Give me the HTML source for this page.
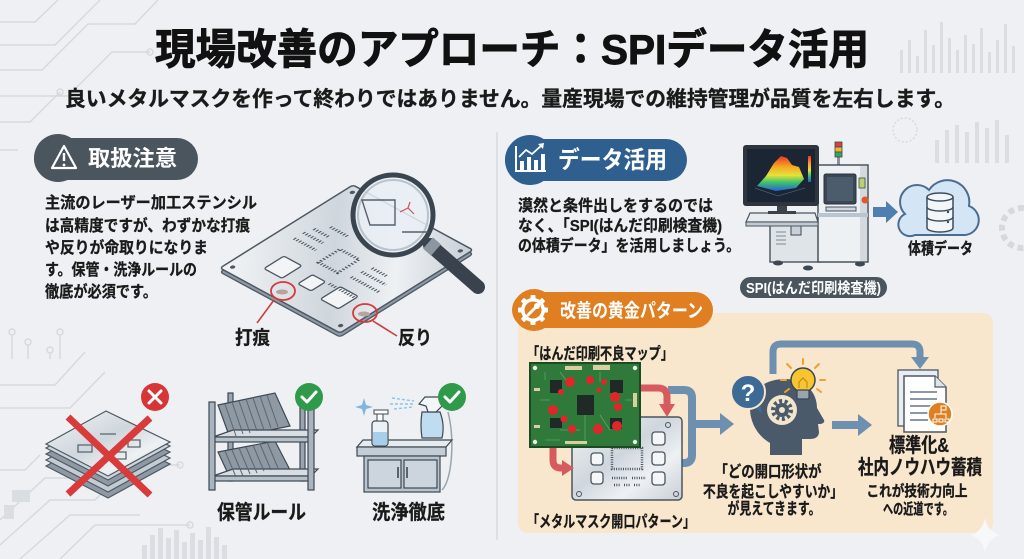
<!DOCTYPE html>
<html><head><meta charset="utf-8"><style>
html,body{margin:0;padding:0;background:#eef0f3;}
svg{display:block;}
text{font-family:"Liberation Sans","Noto Sans CJK JP",sans-serif;font-weight:700;}
</style></head><body>
<svg width="1024" height="559" viewBox="0 0 1024 559" xmlns="http://www.w3.org/2000/svg">
<defs>
<linearGradient id="silver" x1="0" y1="0" x2="1" y2="1">
<stop offset="0" stop-color="#f3f5f7"/><stop offset="0.45" stop-color="#cfd6dc"/><stop offset="0.7" stop-color="#eef1f4"/><stop offset="1" stop-color="#c7ced5"/></linearGradient>
<linearGradient id="rain" x1="0" y1="0" x2="0" y2="1">
<stop offset="0" stop-color="#e8352b"/><stop offset="0.3" stop-color="#f5a623"/><stop offset="0.55" stop-color="#e6e23a"/><stop offset="0.75" stop-color="#3cc46a"/><stop offset="1" stop-color="#2a5fd6"/></linearGradient>
</defs>
<rect width="1024" height="559" fill="#eef0f3"/>

<!-- background decorations -->
<g stroke="#d5d9de" stroke-width="1.4" fill="none">
<path d="M0 22 H35 L58 0"/><path d="M0 45 H55 L100 0"/><path d="M0 70 H42 L88 24 H135 L158 0"/>
<path d="M0 96 H68 L112 52 H150"/><path d="M0 122 H30 L60 92"/><path d="M0 150 H18"/>
<path d="M0 385 H55 L85 352"/><path d="M0 408 H70 L105 372"/><path d="M0 520 L45 478 H120 L150 448"/>
<path d="M0 545 L50 500 H95 L130 465 H180"/><path d="M20 559 L70 515 H140"/><path d="M60 559 L95 525 H190"/>
<path d="M0 470 H25 L40 455"/>
<circle cx="150" cy="52" r="3"/><circle cx="60" cy="92" r="3"/><circle cx="180" cy="465" r="3"/><circle cx="190" cy="525" r="3"/>
<circle cx="12" cy="332" r="3"/><circle cx="60" cy="332" r="3"/><circle cx="28" cy="342" r="3"/><circle cx="50" cy="350" r="3"/>
<path d="M12 335 V359 M60 335 V359 M28 345 V359 M50 353 V359"/>
<circle cx="905" cy="130" r="12" stroke-dasharray="2 2"/>
<circle cx="1022" cy="228" r="20" stroke-width="6" stroke-dasharray="6 4"/>
</g>
<g fill="#dadde1">
<rect x="900" y="50" width="3" height="23"/><rect x="908" y="40" width="3" height="33"/><rect x="916" y="56" width="3" height="17"/><rect x="924" y="30" width="3" height="43"/><rect x="932" y="45" width="3" height="28"/><rect x="940" y="22" width="3" height="51"/><rect x="948" y="38" width="3" height="35"/><rect x="956" y="50" width="3" height="23"/><rect x="964" y="35" width="3" height="38"/><rect x="972" y="44" width="3" height="29"/><rect x="980" y="28" width="3" height="45"/><rect x="988" y="52" width="3" height="21"/><rect x="996" y="40" width="3" height="33"/><rect x="1004" y="24" width="3" height="49"/><rect x="1012" y="46" width="3" height="27"/>
<rect x="935" y="140" width="4" height="23"/><rect x="945" y="130" width="4" height="33"/><rect x="955" y="125" width="4" height="38"/><rect x="965" y="132" width="4" height="31"/><rect x="975" y="122" width="4" height="41"/><rect x="985" y="128" width="4" height="35"/><rect x="995" y="120" width="4" height="43"/><rect x="1005" y="135" width="4" height="28"/>
<rect x="142" y="545" width="5" height="14"/><rect x="150" y="535" width="5" height="24"/><rect x="158" y="528" width="5" height="31"/><rect x="166" y="538" width="5" height="21"/><rect x="174" y="530" width="5" height="29"/><rect x="182" y="542" width="5" height="17"/><rect x="190" y="533" width="5" height="26"/><rect x="198" y="540" width="5" height="19"/><rect x="206" y="527" width="5" height="32"/><rect x="214" y="537" width="5" height="22"/><rect x="222" y="545" width="5" height="14"/>
<rect x="12" y="490" width="18" height="12"/><rect x="4" y="505" width="10" height="14"/>
</g>

<!-- Title -->
<text x="155" y="64" font-size="42" font-weight="900" textLength="714" lengthAdjust="spacingAndGlyphs" fill="#111" stroke="#111" stroke-width="0.9">現場改善のアプローチ：SPIデータ活用</text>
<text x="65" y="106" font-size="21" textLength="890" lengthAdjust="spacingAndGlyphs" fill="#1a1a1a" stroke="#1a1a1a" stroke-width="0.35">良いメタルマスクを作って終わりではありません。量産現場での維持管理が品質を左右します。</text>

<!-- separator -->
<line x1="497" y1="132" x2="497" y2="540" stroke="#d6dadf" stroke-width="1.5"/>

<!-- LEFT: pill -->
<rect x="34" y="138" width="164" height="42" rx="21" fill="#4b555e"/>
<circle cx="58" cy="158" r="24" fill="#4b555e"/>
<path d="M64 146 L76 168 L52 168 Z" fill="none" stroke="#fff" stroke-width="2.2" stroke-linejoin="round"/>
<line x1="64" y1="153" x2="64" y2="161" stroke="#fff" stroke-width="2.4"/><circle cx="64" cy="165" r="1.4" fill="#fff"/>
<text x="88" y="166" font-size="22" textLength="89" lengthAdjust="spacingAndGlyphs" fill="#fff">取扱注意</text>

<g font-size="16" fill="#1a1a1a" stroke="#1a1a1a" stroke-width="0.3">
<text x="45" y="208" textLength="212" lengthAdjust="spacingAndGlyphs">主流のレーザー加工ステンシル</text>
<text x="45" y="231" textLength="205" lengthAdjust="spacingAndGlyphs">は高精度ですが、わずかな打痕</text>
<text x="45" y="253" textLength="163" lengthAdjust="spacingAndGlyphs">や反りが命取りになりま</text>
<text x="45" y="275" textLength="152" lengthAdjust="spacingAndGlyphs">す。保管・洗浄ルールの</text>
<text x="45" y="297" textLength="112" lengthAdjust="spacingAndGlyphs">徹底が必須です。</text>
</g>

<!-- stencil plate -->
<g transform="matrix(1.2,0.65,1.33,-0.83,220,272)"><rect x="0" y="0" width="100" height="100" rx="2" fill="#8f99a3" stroke="#4d5863" stroke-width="1.3" vector-effect="non-scaling-stroke"/></g>
<g transform="matrix(1.2,0.65,1.33,-0.83,220,268)">
<rect x="0" y="0" width="100" height="100" rx="2" fill="url(#silver)" stroke="#4d5863" stroke-width="1.5" vector-effect="non-scaling-stroke"/>
<g fill="#f2f4f6" stroke="#4d5863" stroke-width="1.3">
<rect x="20" y="15" width="15" height="15" rx="1.5" vector-effect="non-scaling-stroke"/>
<rect x="46" y="17" width="11" height="11" rx="1.5" vector-effect="non-scaling-stroke"/>
<rect x="67" y="15" width="15" height="15" rx="1.5" vector-effect="non-scaling-stroke"/>
</g>
<g fill="none" stroke="#4d5863" stroke-width="2.2" stroke-dasharray="0.9 1.3">
<rect x="40" y="38" width="16" height="16"/>
<path d="M12 45 H30 M12 52 H28 M14 58 H26 M65 40 H88 M66 47 H86 M68 53 H80 M20 65 H34 M60 28 H82"/>
</g>
<circle cx="5" cy="5" r="1.5" fill="#4d5863"/><circle cx="95" cy="5" r="1.5" fill="#4d5863"/><circle cx="5" cy="95" r="1.5" fill="#4d5863"/><circle cx="95" cy="95" r="1.5" fill="#4d5863"/>
</g>
<!-- dents -->
<ellipse cx="283" cy="291" rx="12" ry="9" fill="none" stroke="#d63a3a" stroke-width="1.8"/>
<ellipse cx="282" cy="292" rx="6" ry="2.5" fill="#b9a39c"/>
<line x1="274" y1="300" x2="257" y2="323" stroke="#c8403f" stroke-width="1.6"/>
<ellipse cx="365" cy="313" rx="12" ry="9" fill="none" stroke="#d63a3a" stroke-width="1.8"/>
<ellipse cx="364" cy="314" rx="6" ry="2.5" fill="#b9a39c"/>
<line x1="373" y1="321" x2="397" y2="336" stroke="#c8403f" stroke-width="1.6"/>
<text x="235" y="344" font-size="19" textLength="35" lengthAdjust="spacingAndGlyphs" fill="#1a1a1a" stroke="#1a1a1a" stroke-width="0.3">打痕</text>
<text x="398" y="344" font-size="19" textLength="34" lengthAdjust="spacingAndGlyphs" fill="#1a1a1a" stroke="#1a1a1a" stroke-width="0.3">反り</text>
<!-- magnifier -->
<line x1="430" y1="245" x2="478" y2="287" stroke="#3a434d" stroke-width="14" stroke-linecap="round"/>
<line x1="428" y1="243" x2="436" y2="250" stroke="#8c96a0" stroke-width="15"/>
<circle cx="393" cy="215" r="40" fill="#e9eff4" fill-opacity="0.85" stroke="#3b4550" stroke-width="5"/>
<circle cx="393" cy="215" r="35" fill="none" stroke="#b9c3cc" stroke-width="2"/>
<path d="M362 200 H395 V225 H370 Z M402 232 H428" fill="none" stroke="#56616c" stroke-width="1.4"/>
<path d="M400 212 L408 208 L414 214 M408 208 L410 202" fill="none" stroke="#c9574d" stroke-width="1.2"/>

<!-- stack of stencils -->
<g stroke="#4d5863" stroke-width="1.2">
<polygon points="46,466 106,433 170,464 108,498" fill="#8f99a3"/>
<polygon points="46,460 106,427 170,458 108,492" fill="#c4ccd3"/>
<polygon points="46,454 106,421 170,452 108,486" fill="#8f99a3"/>
<polygon points="46,448 106,415 170,446 108,480" fill="#cdd4da"/>
<polygon points="46,444 106,411 170,442 108,476" fill="url(#silver)"/>
</g>
<g fill="none" stroke="#5a6570" stroke-width="1.3">
<rect x="90" y="425" width="16" height="9" rx="2" transform="skewX(-20)"/>
<path d="M78 445 h14 v7 h-14z M112 452 h14 v7 h-14z M128 440 h12 v7 h-12z M100 434 h16"/>
</g>
<line x1="68" y1="417" x2="150" y2="495" stroke="#d93b3b" stroke-width="7"/>
<line x1="150" y1="418" x2="68" y2="494" stroke="#d93b3b" stroke-width="7"/>
<circle cx="155" cy="397" r="14" fill="#d63636"/>
<path d="M149 391 L161 403 M161 391 L149 403" stroke="#fff" stroke-width="3" stroke-linecap="round"/>

<!-- shelf -->
<g stroke="#3e4852" stroke-width="1.2">
<rect x="228" y="393" width="5" height="88" fill="#9aa5b0"/>
<rect x="300" y="395" width="5" height="86" fill="#9aa5b0"/>
<polygon points="218,405 275,393 290,426 230,438" fill="#8e99a4"/>
<polygon points="218,452 275,441 290,470 230,478" fill="#8e99a4"/>
<polygon points="213,437 233,430 318,430 311,437" fill="#d7dde3"/>
<rect x="213" y="437" width="98" height="5" fill="#b6c0c9"/>
<polygon points="213,476 233,469 318,469 311,476" fill="#d7dde3"/>
<rect x="213" y="476" width="98" height="5" fill="#b6c0c9"/>
<rect x="209" y="402" width="6" height="88" fill="#aab4be"/>
<rect x="308" y="400" width="6" height="90" fill="#aab4be"/>
</g>
<g stroke="#5b6671" stroke-width="1">
<path d="M225 404 L236 436 M232 402 L243 434 M239 401 L250 433 M246 399 L257 431 M253 398 L264 430 M260 396 L271 428 M267 395 L278 427"/>
<path d="M225 451 L236 477 M232 450 L243 476 M239 448 L250 474 M246 447 L257 473 M253 445 L264 471 M260 444 L271 470 M267 442 L278 468"/>
</g>
<circle cx="309" cy="397" r="14" fill="#2e9a4a"/>
<path d="M302 397 L307 402 L316 392" fill="none" stroke="#fff" stroke-width="3" stroke-linecap="round" stroke-linejoin="round"/>
<text x="217" y="519" font-size="20" textLength="89" lengthAdjust="spacingAndGlyphs" fill="#1a1a1a" stroke="#1a1a1a" stroke-width="0.3">保管ルール</text>

<!-- cabinet -->
<path d="M448 412 C455 440 452 480 442 490" fill="none" stroke="#9aa4ae" stroke-width="1.5"/>
<g stroke="#3e4852" stroke-width="1.2">
<polygon points="357,447 363,440 452,440 446,447" fill="#e6ebef"/>
<rect x="357" y="447" width="89" height="9" fill="#c3cdd6"/>
<rect x="364" y="456" width="76" height="36" fill="#b8c3ce"/>
<rect x="368" y="460" width="33" height="28" fill="#ccd5dd"/>
<rect x="404" y="460" width="33" height="28" fill="#ccd5dd"/>
</g>
<path d="M398 467 V478 M407 467 V478" stroke="#3e4852" stroke-width="1.6"/>
<rect x="372" y="421" width="16" height="25" rx="3" fill="#eaf2f8" stroke="#3e4852" stroke-width="1.2"/>
<rect x="373" y="432" width="14" height="13" fill="#a8cfe9"/>
<rect x="377" y="414" width="6" height="7" fill="#fff" stroke="#3e4852"/>
<rect x="374" y="410" width="14" height="4" fill="#fff" stroke="#3e4852"/>
<path d="M422 412 Q420 425 422 438 H442 Q445 425 440 412 Z" fill="#bfdcf0" stroke="#3e4852" stroke-width="1.2"/>
<path d="M425 397 H440 L442 406 L436 412 H428 L426 406 L419 404 Z" fill="#f3f6f9" stroke="#3e4852" stroke-width="1.2"/>
<path d="M392 398 L414 401 M390 404 L413 404 M394 409 L413 407" stroke="#8fc3e6" stroke-width="1.4" stroke-dasharray="3 2"/>
<path d="M364 398 L366 405 L373 407 L366 409 L364 416 L362 409 L355 407 L362 405 Z" fill="#7fb5e0"/>
<circle cx="452" cy="397" r="14" fill="#2e9a4a"/>
<path d="M445 397 L450 402 L459 392" fill="none" stroke="#fff" stroke-width="3" stroke-linecap="round" stroke-linejoin="round"/>
<text x="372" y="519" font-size="20" textLength="73" lengthAdjust="spacingAndGlyphs" fill="#1a1a1a" stroke="#1a1a1a" stroke-width="0.3">洗浄徹底</text>

<!-- RIGHT: data pill -->
<rect x="505" y="139" width="182" height="42" rx="21" fill="#2f5f8f"/>
<circle cx="530" cy="160" r="25" fill="#2f5f8f"/>
<path d="M516 146 V171 H546" fill="none" stroke="#fff" stroke-width="2"/>
<g fill="#fff"><rect x="520" y="161" width="4" height="9"/><rect x="527" y="157" width="4" height="13"/><rect x="534" y="160" width="4" height="10"/><rect x="541" y="154" width="4" height="16"/></g>
<path d="M519 157 L526 150 L532 154 L542 145" fill="none" stroke="#fff" stroke-width="1.8"/>
<path d="M538 144 L544 143 L543 149 Z" fill="#fff"/>
<text x="558" y="168" font-size="24" textLength="109" lengthAdjust="spacingAndGlyphs" fill="#fff">データ活用</text>

<g font-size="16" fill="#1a1a1a" stroke="#1a1a1a" stroke-width="0.3">
<text x="518" y="211" textLength="195" lengthAdjust="spacingAndGlyphs">漠然と条件出しをするのでは</text>
<text x="518" y="231" textLength="204" lengthAdjust="spacingAndGlyphs">なく、「SPI(はんだ印刷検査機)</text>
<text x="518" y="251" textLength="222" lengthAdjust="spacingAndGlyphs">の体積データ」を活用しましょう。</text>
</g>

<!-- SPI machine -->
<rect x="837" y="155" width="3" height="12" fill="#8a949e"/>
<rect x="835" y="142" width="7" height="5" fill="#d9423a" stroke="#3e4852" stroke-width="0.8"/>
<rect x="835" y="147" width="7" height="5" fill="#f0b52e" stroke="#3e4852" stroke-width="0.8"/>
<rect x="835" y="152" width="7" height="5" fill="#3aa55a" stroke="#3e4852" stroke-width="0.8"/>
<rect x="770" y="218" width="50" height="44" fill="#dfe4e9" stroke="#3e4852" stroke-width="1.3"/>
<path d="M776 232 H786 M776 236 H786 M776 240 H786 M776 244 H786" stroke="#7d8893" stroke-width="1"/>
<rect x="791" y="220" width="10" height="15" fill="#c9d0d7" stroke="#3e4852" stroke-width="1"/>
<rect x="818" y="165" width="50" height="97" fill="#eef1f4" stroke="#3e4852" stroke-width="1.4"/>
<rect x="860" y="166" width="7" height="95" fill="#d3d9df"/>
<rect x="824" y="174" width="32" height="30" rx="2" fill="#3a4754" stroke="#2a333c"/>
<rect x="827" y="177" width="26" height="24" fill="#4c5c6c"/>
<rect x="859" y="178" width="6" height="10" fill="#b9d36a" stroke="#3e4852" stroke-width="0.8"/>
<rect x="826" y="207" width="30" height="4" fill="#d0d7de" stroke="#4a5560" stroke-width="1"/>
<circle cx="865" cy="200" r="3.5" fill="#e0572f"/>
<rect x="818" y="213" width="50" height="4" fill="#b8c4d2"/>
<ellipse cx="778" cy="263" rx="5" ry="2.5" fill="#3e4852"/><ellipse cx="808" cy="268" rx="5" ry="2.5" fill="#3e4852"/><ellipse cx="860" cy="264" rx="5" ry="2.5" fill="#3e4852"/>
<polygon points="750,213 815,213 818,222 746,222" fill="#e8ecef" stroke="#4a5560" stroke-width="1.2"/>
<rect x="746" y="222" width="72" height="4" fill="#c3cad1" stroke="#4a5560" stroke-width="1"/>
<rect x="777" y="205" width="10" height="8" fill="#3a424a"/>
<rect x="768" y="211" width="28" height="3" fill="#3a424a"/>
<rect x="743" y="145" width="76" height="61" rx="3" fill="#2e353c"/>
<rect x="747" y="149" width="68" height="53" fill="#1b2533"/>
<path d="M757 186 L766 176 L774 163 L781 156 L787 158 L792 165 L799 167 L804 179 L796 188 L776 191 Z" fill="url(#rain)"/>
<path d="M755 188 L778 196 L805 188" fill="none" stroke="#4c5a6c" stroke-width="0.8"/>
<rect x="808" y="156" width="3" height="26" fill="url(#rain)"/>
<rect x="740" y="277" width="147" height="21" rx="10.5" fill="#4b555e"/>
<text x="746" y="293" font-size="15" textLength="135" lengthAdjust="spacingAndGlyphs" fill="#fff">SPI(はんだ印刷検査機)</text>

<polygon points="873,207 886,207 886,201 898,212 886,223 886,217 873,217" fill="#4f7faf"/>
<path d="M915 235 L965 235 A15 15 0 0 0 969 206 A22 22 0 0 0 929 190 A16 16 0 0 0 905 214 A11 11 0 0 0 915 235 Z" fill="#d4e6f5" stroke="#4a6d8f" stroke-width="2"/>
<g stroke="#3e4d5c" stroke-width="1.5" fill="#f3f6f9">
<path d="M927 197 V228 A13 4 0 0 0 953 228 V197"/>
<ellipse cx="940" cy="197" rx="13" ry="4"/>
<path d="M927 207 A13 4 0 0 0 953 207 M927 217 A13 4 0 0 0 953 217" fill="none"/>
</g>
<circle cx="948" cy="212" r="1.2" fill="#3e4d5c"/><circle cx="948" cy="222" r="1.2" fill="#3e4d5c"/>
<text x="908" y="254" font-size="16" textLength="65" lengthAdjust="spacingAndGlyphs" fill="#1a1a1a" stroke="#1a1a1a" stroke-width="0.3">体積データ</text>

<!-- golden pattern panel -->
<rect x="518" y="313" width="475" height="220" rx="10" fill="#f8e6cd"/>
<rect x="512" y="292" width="201" height="36" rx="18" fill="#e07f22"/>
<circle cx="534" cy="310" r="21" fill="#e07f22"/>
<g fill="#fff">
<circle cx="533" cy="310" r="12"/>
<rect x="530.5" y="295" width="5" height="30" rx="1"/>
<rect x="518" y="307.5" width="30" height="5" rx="1"/>
<rect x="530.5" y="295" width="5" height="30" rx="1" transform="rotate(45 533 310)"/>
<rect x="530.5" y="295" width="5" height="30" rx="1" transform="rotate(-45 533 310)"/>
</g>
<circle cx="533" cy="310" r="8.5" fill="#e07f22"/>
<line x1="528" y1="315" x2="536" y2="307" stroke="#fff" stroke-width="3" stroke-linecap="round"/>
<circle cx="537" cy="306" r="3" fill="#fff"/>
<text x="560" y="317" font-size="19" textLength="143" lengthAdjust="spacingAndGlyphs" fill="#fff">改善の黄金パターン</text>

<text x="527" y="359" font-size="16" textLength="146" lengthAdjust="spacingAndGlyphs" fill="#1a1a1a" stroke="#1a1a1a" stroke-width="0.3">「はんだ印刷不良マップ」</text>
<text x="527" y="527" font-size="16" textLength="168" lengthAdjust="spacingAndGlyphs" fill="#1a1a1a" stroke="#1a1a1a" stroke-width="0.3">「メタルマスク開口パターン」</text>

<!-- blue merge connector -->
<path d="M668 390 H684 Q692 390 692 398 V455 Q692 463 684 463 H680" fill="none" stroke="#6d8fb0" stroke-width="8"/>
<line x1="692" y1="424" x2="722" y2="424" stroke="#6d8fb0" stroke-width="8"/>
<polygon points="720,413 734,424 720,435" fill="#6d8fb0"/>

<!-- metal mask -->
<rect x="572" y="417" width="110" height="83" rx="4" fill="url(#silver)" stroke="#4a5561" stroke-width="1.5"/>
<g fill="#f4f6f8" stroke="#4a5561" stroke-width="1.3">
<rect x="652" y="432" width="13" height="13" rx="3"/><rect x="652" y="452" width="13" height="13" rx="3"/><rect x="652" y="472" width="13" height="13" rx="3"/>
<rect x="591" y="453" width="12" height="12" rx="3"/><rect x="591" y="472" width="12" height="12" rx="3"/>
</g>
<rect x="612" y="448" width="30" height="21" fill="none" stroke="#4a5561" stroke-width="2.5" stroke-dasharray="1 1.3"/>
<path d="M612 478 H628 M632 478 H646 M614 485 H620 M624 485 H630 M634 485 H640" stroke="#4a5561" stroke-width="2.5" stroke-dasharray="1 1.3"/>
<circle cx="668" cy="425" r="2.5" fill="none" stroke="#4a5561"/><circle cx="579" cy="494" r="2.5" fill="none" stroke="#4a5561"/><circle cx="676" cy="494" r="2.5" fill="none" stroke="#4a5561"/>

<!-- PCB -->
<rect x="530" y="363" width="110" height="84" fill="#2f7a3a" stroke="#1c4a22" stroke-width="2"/>
<g stroke="#5fa368" stroke-width="0.8" fill="none">
<path d="M545 372 V380 M560 372 L566 380 M600 372 V382 M540 400 H550 M625 400 H632 M585 415 V440 M560 430 H580 M600 415 L610 430 M545 440 H560"/>
</g>
<g fill="#d9cfa0"><rect x="565" y="366" width="17" height="4"/><rect x="593" y="365" width="17" height="5"/><rect x="633" y="393" width="4" height="14"/><rect x="534" y="388" width="6" height="3"/><rect x="534" y="425" width="6" height="3"/><rect x="565" y="441" width="22" height="3"/></g>
<g fill="#1f2a26"><rect x="550" y="380" width="12" height="13"/><rect x="610" y="380" width="13" height="13"/><rect x="550" y="418" width="12" height="10"/><rect x="610" y="418" width="12" height="11"/><rect x="577" y="395" width="17" height="20"/></g>
<g fill="#e0262a">
<circle cx="570" cy="382" r="5"/><circle cx="590" cy="380" r="4"/><circle cx="604" cy="382" r="3"/><circle cx="561" cy="392" r="3"/><circle cx="599" cy="390" r="2.5"/><circle cx="615" cy="397" r="5"/><circle cx="618" cy="407" r="4"/><circle cx="553" cy="410" r="5"/><circle cx="564" cy="419" r="3.5"/><circle cx="572" cy="429" r="4"/><circle cx="598" cy="429" r="5"/><circle cx="617" cy="426" r="5"/>
</g>
<g fill="#e8efe8"><circle cx="535" cy="368" r="2.2"/><circle cx="635" cy="368" r="2.2"/><circle cx="535" cy="442" r="2.2"/><circle cx="635" cy="442" r="2.2"/></g>

<!-- red arrows -->
<path d="M641 388 H658 Q667 388 667 397 V405" fill="none" stroke="#d65a60" stroke-width="7"/>
<polygon points="659,404 675,404 667,417" fill="#d65a60"/>
<path d="M553 448 V460 Q553 468 561 468 H563" fill="none" stroke="#d65a60" stroke-width="7"/>
<polygon points="562,460 562,476 574,468" fill="#d65a60"/>

<!-- top connector -->
<path d="M773 374 V352 Q773 344 781 344 H912 Q920 344 920 352 V358" fill="none" stroke="#6d8fb0" stroke-width="7"/>
<polygon points="911,357 929,357 920,369" fill="#6d8fb0"/>

<!-- head -->
<path d="M770 455 L770 443 C758 436 750 423 750 408 C750 390 765 379 785 379 C805 379 817 392 817 408 L824 420 C825 422 823 424 820 424 L818 424 L819 432 C819 437 815 439 810 439 L802 439 L802 455 Z" fill="#4a5a6b"/>
<circle cx="782" cy="410" r="15" fill="#f3e4cc"/>
<circle cx="782" cy="410" r="9" fill="none" stroke="#4a5a6b" stroke-width="4" stroke-dasharray="3 2.6"/>
<circle cx="782" cy="410" r="7" fill="#4a5a6b"/>
<circle cx="782" cy="410" r="3" fill="#f3e4cc"/>
<path d="M752 404 L762 414 L760 402 Z" fill="#3d6b95"/>
<circle cx="748" cy="392" r="17" fill="#3d6b95" stroke="#f8e6cd" stroke-width="2"/>
<text x="748" y="401" font-size="24" text-anchor="middle" fill="#fff">?</text>
<g stroke="#f0a030" stroke-width="2" stroke-linecap="round">
<line x1="803" y1="364" x2="803" y2="359"/><line x1="791" y1="368" x2="787" y2="364"/><line x1="815" y1="368" x2="819" y2="364"/><line x1="786" y1="380" x2="781" y2="380"/><line x1="820" y1="380" x2="825" y2="380"/><line x1="789" y1="389" x2="785" y2="392"/><line x1="817" y1="389" x2="821" y2="392"/>
</g>
<circle cx="803" cy="380" r="12" fill="#f7c530" stroke="#3b4653" stroke-width="1.5"/>
<path d="M799 388 V382 L803 378 L807 382 V388" fill="none" stroke="#c98a1c" stroke-width="1.2"/>
<rect x="797" y="390" width="12" height="9" rx="1.5" fill="#9aa4ae" stroke="#3b4653" stroke-width="1.2"/>

<!-- mid arrow -->
<line x1="832" y1="425" x2="860" y2="425" stroke="#6d8fb0" stroke-width="8"/>
<polygon points="858,414 872,425 858,436" fill="#6d8fb0"/>

<!-- document -->
<rect x="898" y="370" width="40" height="56" fill="#e9edf1" stroke="#4a5866" stroke-width="1.3"/>
<path d="M904 376 H935 L946 387 V432 H904 Z" fill="#fff" stroke="#4a5866" stroke-width="1.5"/>
<path d="M935 376 V387 H946" fill="#dfe4e9" stroke="#4a5866" stroke-width="1.2"/>
<path d="M910 392 H937 M910 399 H937 M910 406 H937 M910 413 H930 M910 420 H928" stroke="#8b98a6" stroke-width="2"/>
<circle cx="940" cy="414" r="12" fill="#e07f22" stroke="#fff" stroke-width="1.5"/>
<path d="M941 406 h5 v4 h-5z M941 410 v4 h-6 v4 M941 414 h5 v4 M933 419 h4 v3 h-4z M939 419 h4 v3 h-4z M945 419 h4 v3 h-4z" fill="none" stroke="#fff" stroke-width="1"/>

<!-- texts bottom right -->
<g font-size="16" fill="#1a1a1a" text-anchor="middle" stroke="#1a1a1a" stroke-width="0.3">
<text x="768" y="477" textLength="107" lengthAdjust="spacingAndGlyphs">「どの開口形状が</text>
<text x="773" y="497" textLength="140" lengthAdjust="spacingAndGlyphs">不良を起こしやすいか」</text>
<text x="774" y="514" textLength="93" lengthAdjust="spacingAndGlyphs">が見えてきます。</text>
</g>
<g fill="#1a1a1a" text-anchor="middle" stroke="#1a1a1a" stroke-width="0.35">
<text x="919" y="452" font-size="20" textLength="60" lengthAdjust="spacingAndGlyphs">標準化&amp;</text>
<text x="920" y="474" font-size="20" textLength="124" lengthAdjust="spacingAndGlyphs">社内ノウハウ蓄積</text>
<text x="917" y="496" font-size="15" textLength="101" lengthAdjust="spacingAndGlyphs">これが技術力向上</text>
<text x="918" y="514" font-size="15" textLength="70" lengthAdjust="spacingAndGlyphs">への近道です。</text>
</g>

<path d="M985 518 Q988 532 1000 535 Q988 538 985 552 Q982 538 970 535 Q982 532 985 518 Z" fill="#f7f8fa"/>
</svg>
</body></html>
